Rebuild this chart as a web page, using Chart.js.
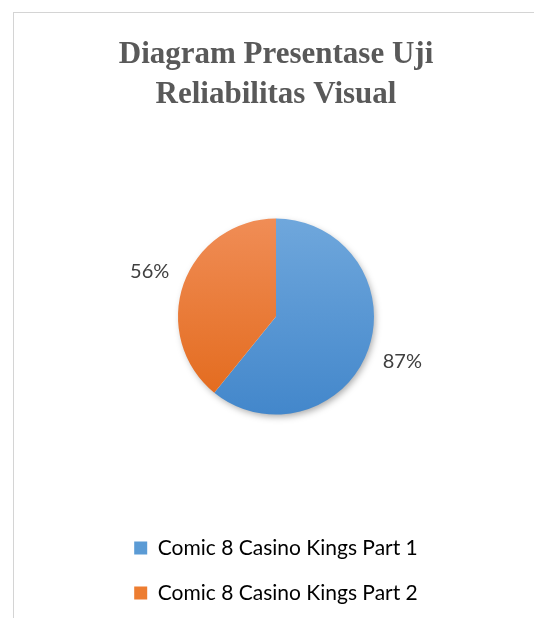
<!DOCTYPE html>
<html>
<head>
<meta charset="utf-8">
<script src="https://cdn.jsdelivr.net/npm/chart.js@4.4.0/dist/chart.umd.min.js"></script>
<style>
  html, body { margin: 0; padding: 0; background: #fff; }
  #bingkai {
    position: absolute; left: 13px; top: 12px; width: 521px; height: 606px;
    border-top: 1px solid #d4d4d4; border-left: 1px solid #d4d4d4;
  }
  #wadah { position: absolute; left: 0; top: 0; width: 520px; height: 605px; }
</style>
</head>
<body>
<div id="bingkai"><div id="wadah"><canvas id="grafikPie"></canvas></div></div>
<script>
// data diagram
const kategori = ['Comic 8 Casino Kings Part 1', 'Comic 8 Casino Kings Part 2'];
const nilaiPersen = [87, 56];
const labelPersen = ['87%', '56%'];
const warnaAtas = ['#6fa7dc', '#f08d56'];
const warnaBawah = ['#4387cb', '#e26819'];
const warnaLegenda = ['#5b9bd5', '#ed7d31'];

const jariJari = 98;

function isiGradien(context) {
    const chart = context.chart;
    const area = chart.chartArea;
    if (!area) return warnaLegenda[context.dataIndex];
    const cy = (area.top + area.bottom) / 2;
    const g = chart.ctx.createLinearGradient(0, cy - jariJari, 0, cy + jariJari);
    g.addColorStop(0, warnaAtas[context.dataIndex]);
    g.addColorStop(1, warnaBawah[context.dataIndex]);
    return g;
}

// bayangan lingkaran di belakang pie
const pluginBayangan = {
    id: 'bayangan',
    beforeDatasetsDraw(chart) {
        const arc = chart.getDatasetMeta(0).data[0];
        if (!arc) return;
        const ctx = chart.ctx;
        ctx.save();
        ctx.shadowColor = 'rgba(0,0,0,0.35)';
        ctx.shadowBlur = 7;
        ctx.shadowOffsetX = 2;
        ctx.shadowOffsetY = 3;
        ctx.fillStyle = '#ffffff';
        ctx.beginPath();
        ctx.arc(arc.x, arc.y, arc.outerRadius - 1, 0, Math.PI * 2);
        ctx.fill();
        ctx.restore();
    }
};

// label persen di luar irisan
const pluginLabel = {
    id: 'labelLuar',
    afterDatasetsDraw(chart) {
        const ctx = chart.ctx;
        ctx.save();
        ctx.font = '20px Lato';
        ctx.fillStyle = '#404040';
        ctx.textAlign = 'center';
        ctx.textBaseline = 'middle';
        chart.getDatasetMeta(0).data.forEach((arc, i) => {
            const sudut = (arc.startAngle + arc.endAngle) / 2;
            const d = arc.outerRadius + 36;
            ctx.fillText(labelPersen[i], arc.x + Math.cos(sudut) * d, arc.y + Math.sin(sudut) * d);
        });
        ctx.restore();
    }
};

const ctx = document.getElementById('grafikPie').getContext('2d');
const grafikPie = new Chart(ctx, {
    type: 'pie',
    data: {
        labels: kategori,
        datasets: [{
            data: nilaiPersen,
            backgroundColor: isiGradien,
            borderWidth: 0,
            radius: jariJari
        }]
    },
    options: {
        responsive: true,
        maintainAspectRatio: false,
        animation: false,
        layout: { padding: { left: 4, bottom: 4.5 } },
        plugins: {
            tooltip: { enabled: false },
            title: {
                display: true,
                text: ['Diagram Presentase Uji', 'Reliabilitas Visual'],
                color: '#595959',
                font: { family: '"Liberation Serif", "Times New Roman", serif', size: 31, weight: 'bold', lineHeight: 1.3 },
                padding: { top: 22, bottom: 4 }
            },
            legend: {
                position: 'bottom',
                labels: {
                    font: { family: 'Lato', size: 21 },
                    color: '#595959',
                    boxWidth: 13,
                    boxHeight: 13,
                    padding: 24,
                    generateLabels(chart) {
                        return kategori.map((k, i) => ({
                            text: k,
                            fillStyle: warnaLegenda[i],
                            strokeStyle: warnaLegenda[i],
                            lineWidth: 0,
                            hidden: false,
                            index: i
                        }));
                    }
                }
            }
        }
    },
    plugins: [pluginBayangan, pluginLabel]
});
</script>
</body>
</html>
